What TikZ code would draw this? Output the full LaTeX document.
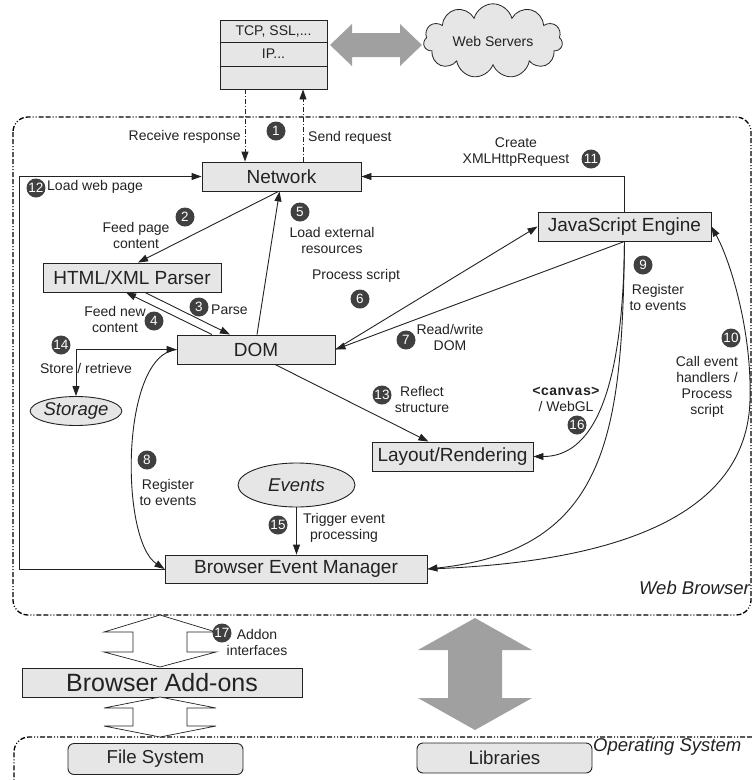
\documentclass[tikz,border=0pt]{standalone}
\usepackage{fontspec}
\setmainfont{Liberation Sans}
\setmonofont{Liberation Mono}
\usetikzlibrary{arrows.meta,shapes.geometric,shapes.symbols,calc}
\definecolor{boxfill}{HTML}{E6E6E6}
\definecolor{numfill}{HTML}{404040}
\definecolor{ink}{HTML}{222222}
\definecolor{bigarrow}{HTML}{A0A0A0}
\begin{document}
\begin{tikzpicture}[x=1pt,y=-1pt,
  >={Triangle[length=10pt,width=7pt]},
  box/.style={draw=ink,fill=boxfill,line width=0.9pt,inner sep=0pt,text=ink,font=\fontsize{19}{19}\selectfont},
  osbox/.style={box,rounded corners=6pt,font=\fontsize{18.7}{19}\selectfont},
  oval/.style={ellipse,draw=ink,fill=boxfill,line width=0.9pt,inner sep=0pt,text=ink,font=\fontsize{18.5}{19}\selectfont\itshape},
  lab/.style={font=\fontsize{14}{16}\selectfont,text=ink,align=center,inner sep=0pt},
  num/.style={circle,fill=numfill,text=white,minimum size=19pt,inner sep=0pt,font=\fontsize{13.5}{13.5}\selectfont},
  ln/.style={draw=ink,line width=0.9pt},
  dd/.style={ln,dash pattern=on 5pt off 2pt on 1pt off 2pt},
  bord/.style={draw=black,line width=1.3pt,dash pattern=on 5pt off 2pt on 5pt off 2pt on 1pt off 2pt on 1pt off 2pt},
  hollow/.style={draw=ink,line width=0.7pt,fill=white},
  title/.style={font=\fontsize{18.5}{19}\selectfont\itshape,text=ink,inner sep=0pt}
]
\useasboundingbox (0,0) rectangle (752,780);

% containers
\draw[bord,rounded corners=15pt] (13,117) rectangle (751,615);
\draw[bord,rounded corners=15pt] (752,737) -- (14,737) -- (14,782);
\node[title,anchor=east] (wbt) at (750,588) {Web Browser};
\node[title,anchor=west] (ost) at (593,747) {Operating System};

% network stack
\node[box,minimum width=107pt,minimum height=69pt] (tcp) at (273.5,54.5) {};
\coordinate (r1) at (0,42);
\coordinate (r2) at (0,66);
\draw[ln] (tcp.west |- r1) -- (tcp.east |- r1);
\draw[ln] (tcp.west |- r2) -- (tcp.east |- r2);
\node[lab] (tcpa) at (273.5,31.5) {TCP, SSL,...};
\node[lab] (tcpb) at (273.5,54) {IP...};

\node[cloud,cloud puffs=11,aspect=2.2,draw=ink,fill=boxfill,line width=0.8pt,
  minimum width=139pt,minimum height=66pt,inner sep=0pt,text=ink,
  font=\fontsize{14}{16}\selectfont] (ws) at (493,41) {Web Servers};

\fill[bigarrow] (330,45) -- (352,24) -- (352,33) -- (400,33) -- (400,24) -- (422,45)
  -- (400,66) -- (400,57) -- (352,57) -- (352,66) -- cycle;

% boxes
\node[box,minimum width=159pt,minimum height=29pt] (net) at (281.5,176.5) {Network};
\node[box,minimum width=173pt,minimum height=29pt] (js) at (624.5,226.5) {JavaScript Engine};
\node[box,minimum width=178pt,minimum height=29pt] (parser) at (132,277.5) {HTML/XML Parser};
\node[box,minimum width=158pt,minimum height=29pt] (dom) at (256,349.5) {DOM};
\node[box,minimum width=161pt,minimum height=29pt] (layout) at (452.5,456.5) {Layout/Rendering};
\node[box,minimum width=262pt,minimum height=28pt] (bem) at (296,569) {Browser Event Manager};
\node[box,minimum width=280pt,minimum height=29pt,font=\fontsize{25}{25}\selectfont] (addons) at (162,682.5) {Browser Add-ons};
\node[osbox,minimum width=175pt,minimum height=31pt] (fs) at (155.5,759) {File System};
\node[osbox,minimum width=175pt,minimum height=30pt] (libs) at (504.5,758) {Libraries};
\node[oval,minimum width=86pt,minimum height=29pt] (storage) at (76,411) {Storage};
\node[oval,minimum width=117pt,minimum height=44pt] (events) at (296.5,485) {Events};

% big arrows
\fill[bigarrow] (475,618) -- (532,650) -- (502,650) -- (502,698) -- (532,698) -- (475,730)
  -- (418,698) -- (448,698) -- (448,650) -- (418,650) -- cycle;
\draw[hollow] (160,615) -- (216,632) -- (187,632) -- (187,652) -- (216,652) -- (160,667)
  -- (104,652) -- (133,652) -- (133,632) -- (104,632) -- cycle;
\draw[hollow] (160,697) -- (216,708) -- (187,708) -- (187,726) -- (216,726) -- (160,737)
  -- (104,726) -- (133,726) -- (133,708) -- (104,708) -- cycle;

% connectors
\coordinate (rx) at (245,0);
\coordinate (sx) at (303,0);
\coordinate (lx) at (19,0);
\draw[dd,->] (tcp.south -| rx) -- (net.north -| rx);
\draw[dd,->] (net.north -| sx) -- (tcp.south -| sx);
\draw[ln,->] (bem.west) -- (bem.west -| lx) |- (net.west);
\draw[ln,->] (js.north) |- (net.east);
\draw[ln,->] ($(net.south)+(-3,0)$) -- ($(parser.north)+(6,0)$);
\draw[ln,->] ($(dom.north)+(1,0)$) -- ($(net.south)+(-2,0)$);
\draw[ln,->] ($(parser.south)+(13,0)$) -- ($(dom.north)+(-26,0)$);
\draw[ln,->] ($(dom.north)+(-44,0)$) -- ($(parser.south)+(-6,0)$);
\draw[ln,<->] (dom.west) -- (dom.west -| storage.north) -- (storage.north);
\draw[ln,->] (dom.east) -- (js.west);
\draw[ln,->] (js.south) -- (dom.east);
\draw[ln,->] ($(dom.south)+(19,0)$) -- ($(layout.north)+(-24,0)$);
\draw[ln,->] (js.south) .. controls (623,400) and (590,456.5) .. (layout.east);
\draw[ln,->] (js.south) .. controls (622,430) and (610,550) .. (bem.east);
\draw[ln,->] (bem.east) .. controls (700,560) and (748,470) .. (750,400)
  .. controls (752,330) and (730,260) .. (js.east);
\draw[ln,->] (dom.west) .. controls (120,355) and (120,540) .. (bem.west);
\draw[ln,->] (events.south) -- (bem.north -| events.south);

% labels and numbers
\node[lab,anchor=east] (l1a) at (241,137) {Receive response};
\node[num] (n1) at (276,131) {1};
\node[lab,anchor=west] (l1b) at (308,138) {Send request};
\node[num] (n12) at (36,188) {12};
\node[lab,anchor=west] (l12) at (47,187) {Load web page};
\node[lab] (l11) at (516,152) {Create\\XMLHttpRequest};
\node[num] (n11) at (591,159) {11};
\node[num] (n2) at (185,217) {2};
\node[lab] (l2) at (136,235) {Feed page\\content};
\node[num] (n5) at (300,212) {5};
\node[lab] (l5) at (332,240) {Load external\\resources};
\node[num] (n3) at (199,307) {3};
\node[lab,anchor=west] (l3) at (211,310) {Parse};
\node[num] (n4) at (154,321) {4};
\node[lab] (l4) at (115,319) {Feed new\\content};
\node[num] (n14) at (61,345) {14};
\node[lab] (l14) at (86,368) {Store / retrieve};
\node[lab] (l6) at (356,276) {Process script};
\node[num] (n6) at (360,299) {6};
\node[num] (n7) at (406,340) {7};
\node[lab] (l7) at (450,337) {Read/write\\DOM};
\node[num] (n13) at (382,395) {13};
\node[lab] (l13) at (422,399) {Reflect\\structure};
\node[lab] (l16) at (566,399) {{\ttfamily\bfseries <canvas>}\\/ WebGL};
\node[num] (n16) at (577,425) {16};
\node[num] (n9) at (643,265) {9};
\node[lab] (l9) at (658,297) {Register\\to events};
\node[num] (n10) at (731,338) {10};
\node[lab] (l10) at (707,387) {Call event\\handlers /\\Process\\script};
\node[num] (n8) at (147,460) {8};
\node[lab] (l8) at (168,492) {Register\\to events};
\node[num] (n15) at (278,525) {15};
\node[lab] (l15) at (344,528) {Trigger event\\processing};
\node[num] (n17) at (222,633) {17};
\node[lab] (l17) at (257,642) {Addon\\interfaces};
\end{tikzpicture}
\end{document}
